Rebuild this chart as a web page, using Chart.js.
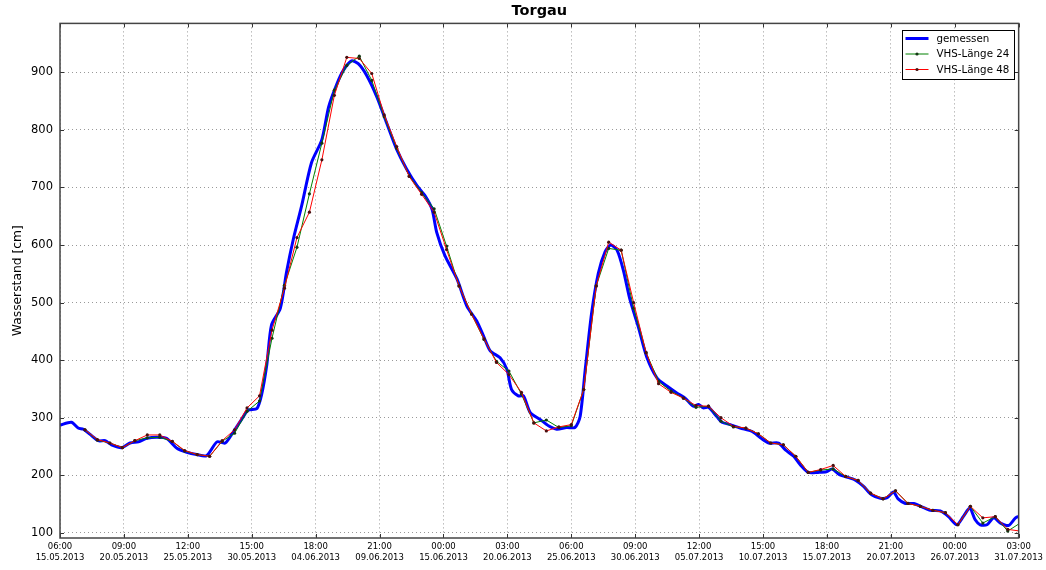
<!DOCTYPE html>
<html>
<head>
<meta charset="utf-8">
<title>Torgau</title>
<script src="https://cdn.jsdelivr.net/npm/chart.js@4.4.0/dist/chart.umd.min.js"></script>
<style>
  body { margin: 0; background: #fff; }
  canvas { display: block; }
</style>
</head>
<body>
<canvas id="chart" width="1046" height="570"></canvas>
<script>
// hours since 15.05.2013 06:00
const measHours = [0, 22, 35, 45, 58, 74, 87, 99, 119, 135, 151, 167, 186, 205, 225, 244, 263, 282, 302, 318, 334, 353,
  362, 379, 388, 398, 407, 424, 436, 449, 465, 484, 504, 517, 533, 545, 561, 574, 590, 610, 629, 648, 667, 687, 703,
  716, 725, 741, 764, 783, 802, 815, 828, 847, 860, 869, 882, 892, 905, 924, 940, 956, 975, 991, 1001, 1011, 1023,
  1036, 1049, 1060, 1072, 1084, 1097, 1113, 1129, 1149, 1168, 1187, 1203, 1219, 1229, 1238, 1248, 1264, 1274, 1290,
  1309, 1332, 1348, 1364, 1383, 1396, 1412, 1425, 1440, 1459, 1475, 1486, 1500, 1514, 1530, 1546, 1562, 1579, 1592,
  1604, 1613, 1627, 1643, 1659, 1675, 1694, 1710, 1726, 1739, 1751, 1761, 1771, 1784, 1797, 1810, 1826, 1839, 1848];
const measValues = [287, 292, 282, 280, 271, 260, 260, 253, 248, 256, 258, 264, 266, 264, 247, 240, 236, 234, 258, 256, 276, 302,
  313, 316, 340, 392, 461, 490, 553, 610, 668, 743, 783, 840, 880, 903, 920, 915, 895, 857, 811, 766, 732, 703, 685,
  662, 622, 581, 541, 494, 468, 442, 416, 404, 384, 349, 338, 338, 309, 297, 286, 280, 283, 283, 302, 385, 481,
  551, 588, 600, 591, 557, 505, 458, 406, 369, 355, 343, 334, 320, 323, 317, 318, 302, 292, 288,
  282, 276, 265, 256, 256, 244, 233, 218, 205, 205, 206, 211, 201, 197, 192, 181, 166, 160, 161,
  171, 159, 151, 151, 145, 139, 138, 128, 114, 129, 143, 123, 114, 114, 126, 117, 113, 126, 129];

// forecasts, one value per day (hour 48, 72, ... 1848)
const vhsHours = [];
for (let k = 2; k <= 77; k++) vhsHours.push(k * 24);
const vhs24 = [279, 261, 256, 248, 260, 265, 266, 259, 242, 236, 233, 259, 273, 311, 329, 438, 530, 596, 689, 777,
  869, 912, 928, 886, 823, 768, 720, 691, 663, 598, 529, 480, 436, 398, 381, 341, 291, 296, 283, 286,
  349, 529, 594, 591, 490, 413, 363, 346, 334, 318, 320, 294, 284, 282, 272, 256, 253, 233, 205, 209,
  211, 198, 191, 169, 159, 173, 151, 146, 139, 135, 114, 146, 117, 128, 103, 117];
const vhs48 = [279, 262, 256, 248, 260, 270, 270, 259, 243, 236, 233, 260, 279, 317, 338, 452, 525, 613, 657, 748,
  860, 926, 924, 898, 826, 771, 719, 688, 657, 592, 529, 480, 437, 396, 375, 344, 291, 277, 284, 288,
  349, 529, 605, 591, 500, 413, 359, 344, 334, 321, 320, 300, 285, 282, 272, 256, 253, 233, 205, 210,
  217, 198, 191, 169, 159, 173, 151, 146, 139, 135, 114, 146, 126, 128, 106, 103];

const yTicks = [100, 200, 300, 400, 500, 600, 700, 800, 900];
const xTickHours = [0, 123, 246, 369, 492, 615, 738, 861, 984, 1107, 1230, 1353, 1476, 1599, 1722, 1845];
const tickTimes = ['06:00', '09:00', '12:00', '15:00', '18:00', '21:00', '00:00', '03:00',
  '06:00', '09:00', '12:00', '15:00', '18:00', '21:00', '00:00', '03:00'];
const tickDates = ['15.05.2013', '20.05.2013', '25.05.2013', '30.05.2013', '04.06.2013', '09.06.2013',
  '15.06.2013', '20.06.2013', '25.06.2013', '30.06.2013', '05.07.2013', '10.07.2013', '15.07.2013',
  '20.07.2013', '26.07.2013', '31.07.2013'];

const toPoints = (xs, ys) => xs.map((x, i) => ({ x: x, y: ys[i] }));
const FONT = 'DejaVu Sans';

// matplotlib-like frame, inward ticks and boxed legend
const framePlugin = {
  id: 'frame',
  afterDraw(chart) {
    const ctx = chart.ctx;
    const a = chart.chartArea;
    ctx.save();
    ctx.strokeStyle = '#333';
    ctx.lineWidth = 1;
    chart.scales.x.ticks.forEach(t => {
      const px = Math.round(chart.scales.x.getPixelForValue(t.value)) + 0.5;
      ctx.beginPath();
      ctx.moveTo(px, a.bottom); ctx.lineTo(px, a.bottom - 4);
      ctx.moveTo(px, a.top); ctx.lineTo(px, a.top + 4);
      ctx.stroke();
    });
    chart.scales.y.ticks.forEach(t => {
      const py = Math.round(chart.scales.y.getPixelForValue(t.value)) + 0.5;
      ctx.beginPath();
      ctx.moveTo(a.left, py); ctx.lineTo(a.left + 4, py);
      ctx.moveTo(a.right, py); ctx.lineTo(a.right - 4, py);
      ctx.stroke();
    });
    ctx.strokeStyle = '#444';
    ctx.lineWidth = 1.5;
    ctx.strokeRect(a.left, a.top, a.right - a.left, a.bottom - a.top);

    // legend
    const bw = 112, bh = 49;
    const bx = Math.round(a.right - 5 - bw) + 0.5, by = Math.round(a.top + 7) + 0.5;
    ctx.fillStyle = '#fff';
    ctx.fillRect(bx, by, bw, bh);
    ctx.strokeStyle = '#000';
    ctx.lineWidth = 1;
    ctx.strokeRect(bx, by, bw, bh);
    ctx.font = '10.3px "' + FONT + '"';
    ctx.textBaseline = 'middle';
    chart.data.datasets.forEach((ds, i) => {
      const y = by + 8 + i * 15.5;
      ctx.strokeStyle = ds.borderColor;
      ctx.lineWidth = ds.borderWidth;
      ctx.beginPath();
      ctx.moveTo(bx + 3, y); ctx.lineTo(bx + 26, y);
      ctx.stroke();
      if (ds.pointRadius > 0) {
        ctx.fillStyle = ds.pointBackgroundColor;
        ctx.beginPath();
        ctx.arc(bx + 14.5, y, ds.pointRadius, 0, Math.PI * 2);
        ctx.fill();
      }
      ctx.fillStyle = '#000';
      ctx.fillText(ds.label, bx + 34, y + 0.5);
    });
    ctx.restore();
  }
};

new Chart(document.getElementById('chart'), {
  type: 'line',
  data: {
    datasets: [
      {
        label: 'gemessen',
        data: toPoints(measHours, measValues),
        borderColor: '#0000ff',
        borderWidth: 3,
        pointRadius: 0,
        tension: 0.25,
        clip: 0,
        order: 3
      },
      {
        label: 'VHS-Länge 24',
        data: toPoints(vhsHours, vhs24),
        borderColor: '#008000',
        borderWidth: 1,
        pointRadius: 1.6,
        pointBorderWidth: 0,
        pointBackgroundColor: '#143814',
        tension: 0,
        clip: 0,
        order: 2
      },
      {
        label: 'VHS-Länge 48',
        data: toPoints(vhsHours, vhs48),
        borderColor: '#ff0000',
        borderWidth: 1,
        pointRadius: 1.6,
        pointBorderWidth: 0,
        pointBackgroundColor: '#4a1010',
        tension: 0,
        clip: 0,
        order: 1
      }
    ]
  },
  options: {
    responsive: false,
    animation: false,
    devicePixelRatio: 1,
    events: [],
    layout: { padding: { left: 0, right: 27, top: 0, bottom: 0 } },
    plugins: {
      legend: { display: false },
      tooltip: { enabled: false },
      title: {
        display: true,
        text: 'Torgau',
        fullSize: false,
        color: '#000',
        font: { family: FONT, size: 14.5, weight: 'bold' },
        padding: { top: 3, bottom: 3 }
      }
    },
    scales: {
      x: {
        type: 'linear',
        min: 0,
        max: 1845,
        afterFit: s => { s.height = 32; },
        afterBuildTicks: s => { s.ticks = xTickHours.map(v => ({ value: v })); },
        grid: { color: '#999', lineWidth: 1, drawTicks: false },
        border: { display: false, dash: [1, 3] },
        ticks: {
          maxRotation: 0,
          autoSkip: false,
          padding: 3,
          color: '#000',
          font: { family: FONT, size: 8.5, lineHeight: 1.3 },
          callback: (v, i) => [tickTimes[i], tickDates[i]]
        }
      },
      y: {
        min: 91,
        max: 985,
        afterFit: s => { s.width = 60; },
        afterBuildTicks: s => { s.ticks = yTicks.map(v => ({ value: v })); },
        grid: { color: '#999', lineWidth: 1, drawTicks: false },
        border: { display: false, dash: [1, 3] },
        title: {
          display: true,
          text: 'Wasserstand [cm]',
          color: '#000',
          font: { family: FONT, size: 12.3 },
          padding: { top: 10, bottom: 0 }
        },
        ticks: {
          padding: 7,
          autoSkip: false,
          color: '#000',
          font: { family: FONT, size: 11.5 },
          callback: v => String(v)
        }
      }
    }
  },
  plugins: [framePlugin]
});
</script>
</body>
</html>
